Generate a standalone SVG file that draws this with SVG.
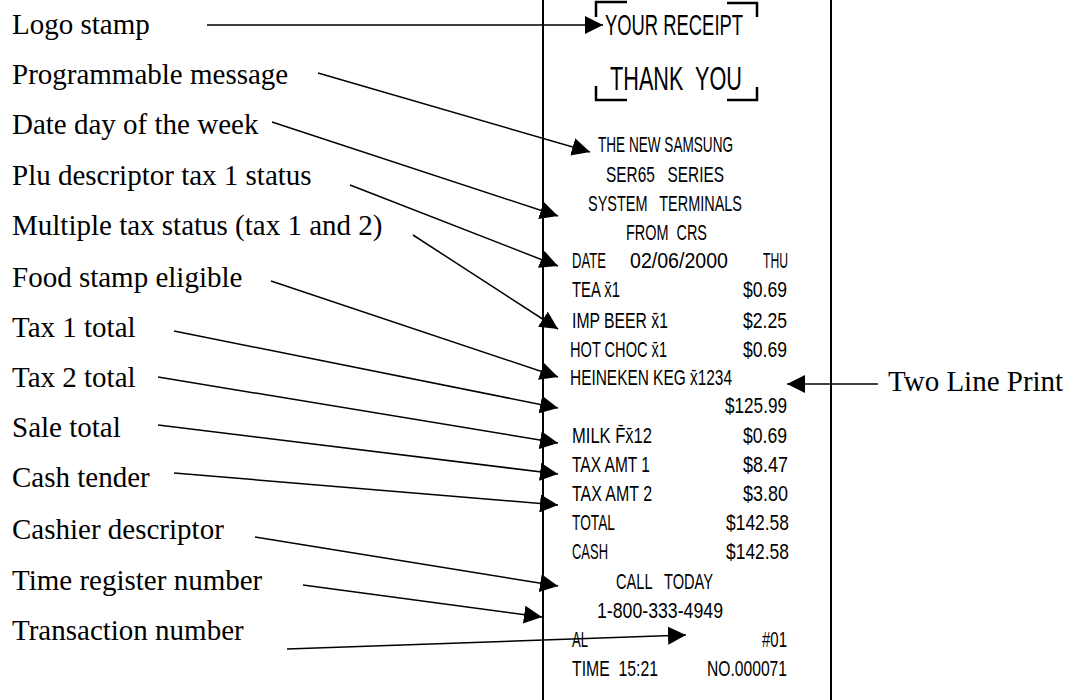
<svg xmlns="http://www.w3.org/2000/svg" width="1089" height="700" viewBox="0 0 1089 700">
  <style>
    .label { font-family: "Liberation Serif", "Times New Roman", serif; font-size: 29px; fill: #000; }
    .rc { font-family: "Liberation Sans", Arial, sans-serif; font-size: 22px; fill: #000; }
    .rcbig { font-family: "Liberation Sans", Arial, sans-serif; fill: #000; }
    .conn { stroke: #000; stroke-width: 1.5; fill: none; marker-end: url(#arrow); }
    .edge { stroke: #000; stroke-width: 2; fill: none; }
    .bracket { stroke: #000; stroke-width: 2.5; fill: none; }
  </style>
  <defs>
    <marker id="arrow" viewBox="0 0 18 18" refX="18" refY="9" markerWidth="18" markerHeight="18" markerUnits="userSpaceOnUse" orient="auto">
      <path d="M0,0 L18,9 L0,18 z" fill="#000"/>
    </marker>
  </defs>
  <rect width="1089" height="700" fill="#fff"/>

  <!-- receipt paper edges and printout -->
  <g id="receipt">
    <line class="edge" x1="543" y1="0" x2="543" y2="700"/>
    <line class="edge" x1="831" y1="0" x2="831" y2="700"/>
    <!-- logo frame corners -->
    <path class="bracket" d="M596,17 V2 H627 M727,3 H757 V17 M596,86 V100 H627 M727,100 H757 V87"/>
    <text class="rcbig" x="605" y="35" font-size="30" textLength="138" lengthAdjust="spacingAndGlyphs">YOUR RECEIPT</text>
    <text class="rcbig" x="610" y="90" font-size="34" textLength="132" lengthAdjust="spacingAndGlyphs" xml:space="preserve">THANK  YOU</text>

    <text class="rc" x="598" y="152" textLength="135" lengthAdjust="spacingAndGlyphs">THE NEW SAMSUNG</text>
    <text class="rc" x="606" y="182" textLength="118" lengthAdjust="spacingAndGlyphs" xml:space="preserve">SER65   SERIES</text>
    <text class="rc" x="588" y="211" textLength="154" lengthAdjust="spacingAndGlyphs" xml:space="preserve">SYSTEM   TERMINALS</text>
    <text class="rc" x="626" y="240" textLength="81" lengthAdjust="spacingAndGlyphs" xml:space="preserve">FROM  CRS</text>

    <text class="rc" x="572" y="268" textLength="34" lengthAdjust="spacingAndGlyphs">DATE</text>
    <text class="rc" x="630" y="268" textLength="98" lengthAdjust="spacingAndGlyphs">02/06/2000</text>
    <text class="rc" x="763" y="268" textLength="25" lengthAdjust="spacingAndGlyphs">THU</text>

    <text class="rc" x="572" y="297" textLength="48" lengthAdjust="spacingAndGlyphs">TEA x̄1</text>
    <text class="rc" x="743" y="297" textLength="44" lengthAdjust="spacingAndGlyphs">$0.69</text>
    <text class="rc" x="572" y="328" textLength="96" lengthAdjust="spacingAndGlyphs">IMP BEER x̄1</text>
    <text class="rc" x="743" y="328" textLength="44" lengthAdjust="spacingAndGlyphs">$2.25</text>
    <text class="rc" x="570" y="357" textLength="97" lengthAdjust="spacingAndGlyphs">HOT CHOC x̄1</text>
    <text class="rc" x="743" y="357" textLength="44" lengthAdjust="spacingAndGlyphs">$0.69</text>
    <text class="rc" x="570" y="385" textLength="162" lengthAdjust="spacingAndGlyphs">HEINEKEN KEG x̄1234</text>
    <text class="rc" x="725" y="413" textLength="62" lengthAdjust="spacingAndGlyphs">$125.99</text>
    <text class="rc" x="572" y="443" textLength="80" lengthAdjust="spacingAndGlyphs">MILK F̄x̄12</text>
    <text class="rc" x="743" y="443" textLength="44" lengthAdjust="spacingAndGlyphs">$0.69</text>
    <text class="rc" x="572" y="472" textLength="78" lengthAdjust="spacingAndGlyphs">TAX AMT 1</text>
    <text class="rc" x="743" y="472" textLength="45" lengthAdjust="spacingAndGlyphs">$8.47</text>
    <text class="rc" x="572" y="501" textLength="80" lengthAdjust="spacingAndGlyphs">TAX AMT 2</text>
    <text class="rc" x="743" y="501" textLength="45" lengthAdjust="spacingAndGlyphs">$3.80</text>
    <text class="rc" x="572" y="530" textLength="43" lengthAdjust="spacingAndGlyphs">TOTAL</text>
    <text class="rc" x="726" y="530" textLength="63" lengthAdjust="spacingAndGlyphs">$142.58</text>
    <text class="rc" x="572" y="559" textLength="36" lengthAdjust="spacingAndGlyphs">CASH</text>
    <text class="rc" x="726" y="559" textLength="63" lengthAdjust="spacingAndGlyphs">$142.58</text>
    <text class="rc" x="616" y="589" textLength="97" lengthAdjust="spacingAndGlyphs" xml:space="preserve">CALL   TODAY</text>
    <text class="rc" x="597" y="618" textLength="126" lengthAdjust="spacingAndGlyphs">1-800-333-4949</text>
    <text class="rc" x="572" y="647" textLength="16" lengthAdjust="spacingAndGlyphs">AL</text>
    <text class="rc" x="762" y="647" textLength="25" lengthAdjust="spacingAndGlyphs">#01</text>
    <text class="rc" x="572" y="676" textLength="86" lengthAdjust="spacingAndGlyphs" xml:space="preserve">TIME  15:21</text>
    <text class="rc" x="707" y="676" textLength="80" lengthAdjust="spacingAndGlyphs">NO.000071</text>
  </g>

  <!-- callout labels -->
  <g id="label-logo"><text class="label" x="12" y="34">Logo stamp</text></g>
  <g id="label-message"><text class="label" x="12" y="84">Programmable message</text></g>
  <g id="label-date"><text class="label" x="12" y="134">Date day of the week</text></g>
  <g id="label-plu"><text class="label" x="12" y="185">Plu descriptor tax 1 status</text></g>
  <g id="label-multitax"><text class="label" x="12" y="235">Multiple tax status (tax 1 and 2)</text></g>
  <g id="label-foodstamp"><text class="label" x="12" y="287">Food stamp eligible</text></g>
  <g id="label-tax1"><text class="label" x="12" y="337">Tax 1 total</text></g>
  <g id="label-tax2"><text class="label" x="12" y="387">Tax 2 total</text></g>
  <g id="label-sale"><text class="label" x="12" y="437">Sale total</text></g>
  <g id="label-cash"><text class="label" x="12" y="487">Cash tender</text></g>
  <g id="label-cashier"><text class="label" x="12" y="539">Cashier descriptor</text></g>
  <g id="label-time"><text class="label" x="12" y="590">Time register number</text></g>
  <g id="label-transaction"><text class="label" x="12" y="640">Transaction number</text></g>
  <g id="label-twoline"><text class="label" x="888" y="391">Two Line Print</text></g>

  <!-- pointer arrows -->
  <g id="connectors">
    <path class="conn" d="M207,25 L603,25"/>
    <path class="conn" d="M318,73 L590,152"/>
    <path class="conn" d="M272,122 L558,216"/>
    <path class="conn" d="M350,185 L558,266"/>
    <path class="conn" d="M413,235 L558,329"/>
    <path class="conn" d="M271,281 L558,377"/>
    <path class="conn" d="M174,331 L558,408"/>
    <path class="conn" d="M158,377 L558,443"/>
    <path class="conn" d="M158,425 L558,474"/>
    <path class="conn" d="M174,473 L558,505"/>
    <path class="conn" d="M255,537 L558,586"/>
    <path class="conn" d="M303,585 L542,617"/>
    <path class="conn" d="M287,649 L686,635"/>
    <path class="conn" d="M878,384 L787,384"/>
  </g>
</svg>
